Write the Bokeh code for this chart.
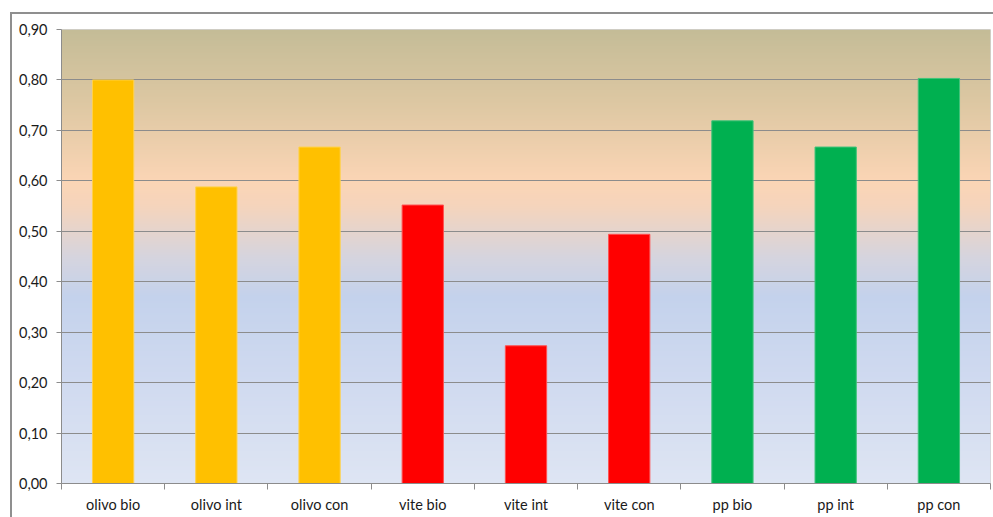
import numpy as np
from bokeh.plotting import figure
from bokeh.models import FixedTicker, CustomJSTickFormatter, Range1d
from bokeh.embed import file_html
from bokeh.resources import INLINE

# Indicator values per crop and management system
categories = ["olivo bio", "olivo int", "olivo con",
              "vite bio", "vite int", "vite con",
              "pp bio", "pp int", "pp con"]
values = [0.800, 0.588, 0.667, 0.552, 0.273, 0.494, 0.719, 0.667, 0.803]
crop_colors = {"olivo": "#FFC000", "vite": "#FF0000", "pp": "#00B050"}
crop_edges = {"olivo": "#FFD24D", "vite": "#FF5050", "pp": "#40C47A"}
y_ticks = [0.0, 0.1, 0.2, 0.3, 0.4, 0.5, 0.6, 0.7, 0.8, 0.9]

n = len(categories)
centers = [i + 0.5 for i in range(n)]
fills = [crop_colors[c.split()[0]] for c in categories]
edges = [crop_edges[c.split()[0]] for c in categories]

p = figure(width=981, height=503, output_backend="svg", toolbar_location=None,
           x_range=Range1d(0, n), y_range=Range1d(0, 0.9),
           frame_width=929, frame_height=454,
           min_border_left=49, min_border_right=3, min_border_top=15, min_border_bottom=34)
p.margin = (12, 0, 0, 10)
p.styles = {"border-left": "2px solid #8f8f8f", "border-top": "2px solid #8f8f8f"}
p.background_fill_color = "white"
p.border_fill_color = "white"
p.outline_line_color = "#d4d4d4"

# vertical gradient behind the bars (tan -> peach -> blue -> pale blue)
stops_y = [0.0, 0.20, 0.37, 0.45, 0.55, 0.60, 0.75, 0.90]
stops_rgb = [(222, 229, 243), (208, 218, 240), (196, 210, 236), (214, 212, 222),
             (245, 212, 188), (251, 213, 181), (222, 200, 163), (196, 188, 151)]
rows = 454
ys = np.linspace(0, 0.9, rows)
img = np.zeros((rows, 1), dtype=np.uint32)
view = img.view(dtype=np.uint8).reshape((rows, 1, 4))
for k in range(3):
    view[:, 0, k] = np.interp(ys, stops_y, [c[k] for c in stops_rgb]).round().astype(np.uint8)
view[:, 0, 3] = 255
p.image_rgba(image=[img], x=0, y=0, dw=n, dh=0.9, level="image")

p.vbar(x=centers, top=values, bottom=0, width=0.4,
       fill_color=fills, line_color=edges, line_width=1)

# y axis
p.yaxis.ticker = FixedTicker(ticks=y_ticks)
p.yaxis.formatter = CustomJSTickFormatter(code="return tick.toFixed(2).replace('.', ',');")
p.yaxis.axis_line_color = "#8c8c8c"
p.yaxis.major_tick_line_color = "#8c8c8c"
p.yaxis.major_tick_out = 5
p.yaxis.major_tick_in = 0
p.yaxis.minor_tick_line_color = None
p.yaxis.major_label_standoff = 9
p.yaxis.major_label_text_font = "Lato"
p.yaxis.major_label_text_font_size = "14.5px"
p.yaxis.major_label_text_color = "#1a1a1a"

# x axis: labels at bar centres, tick marks between categories
p.xaxis.ticker = FixedTicker(ticks=centers, minor_ticks=list(range(n + 1)))
p.xaxis.major_label_overrides = {c: name for c, name in zip(centers, categories)}
p.xaxis.axis_line_color = "#8c8c8c"
p.xaxis.major_tick_line_color = None
p.xaxis.major_tick_out = 0
p.xaxis.major_tick_in = 0
p.xaxis.minor_tick_line_color = "#8c8c8c"
p.xaxis.minor_tick_out = 6
p.xaxis.minor_tick_in = 0
p.xaxis.major_label_standoff = 6
p.xaxis.major_label_text_font = "Lato"
p.xaxis.major_label_text_font_size = "14.5px"
p.xaxis.major_label_text_color = "#1a1a1a"

p.xgrid.grid_line_color = None
p.ygrid.ticker = FixedTicker(ticks=y_ticks[1:-1])
p.ygrid.grid_line_color = "#8c8c8c"
p.ygrid.grid_line_width = 1

open("out.html", "w").write(file_html(p, INLINE))
